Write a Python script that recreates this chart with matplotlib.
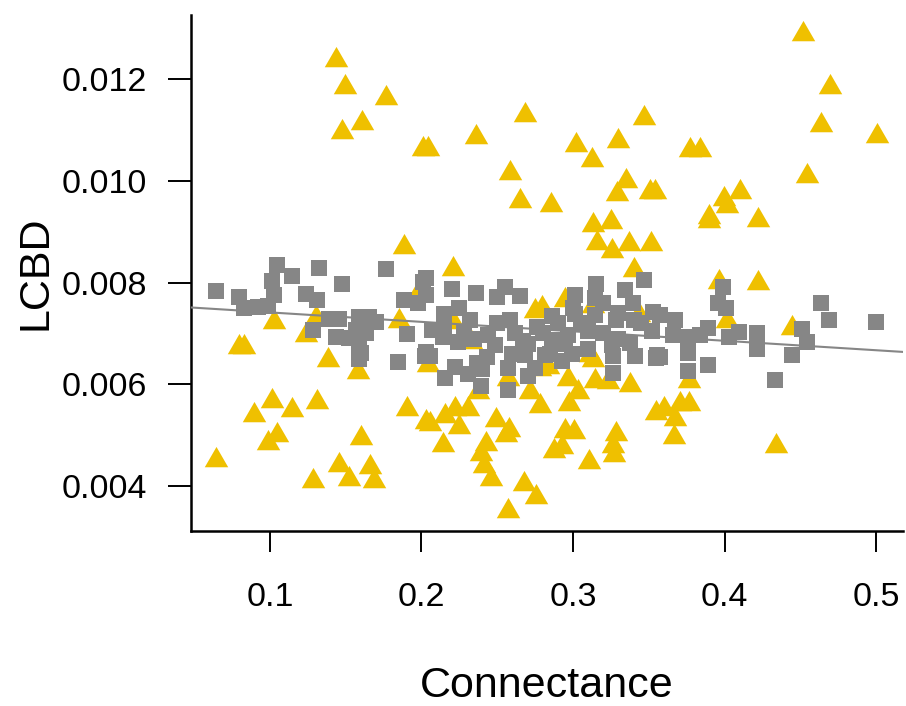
import matplotlib

matplotlib.use("Agg")
import matplotlib.pyplot as plt
import numpy as np

plt.rcParams["font.family"] = ["Liberation Sans", "DejaVu Sans"]

YELLOW = "#EFC000"
GREY = "#868686"

# group 1 (triangles): connectance, LCBD
tri_x = [
    0.1439, 0.1498, 0.1768, 0.1609, 0.1476, 0.2010, 0.2043, 0.2363, 0.2683, 0.2584,
    0.3020, 0.3128, 0.3300, 0.3471, 0.3349, 0.3290, 0.3505, 0.3538, 0.4518, 0.4695,
    0.4640, 0.5004, 0.3775, 0.3841, 0.4547, 0.4099, 0.3995, 0.4018, 0.3896, 0.3896,
    0.4220, 0.2650, 0.2855, 0.3135, 0.3250, 0.3157, 0.3257, 0.3367, 0.3517, 0.3400,
    0.2209, 0.1882, 0.3962, 0.4220, 0.4018, 0.4448,
    0.1028, 0.0797, 0.0830, 0.1238, 0.1304, 0.1849, 0.1988, 0.2749, 0.2793, 0.2948,
    0.3135, 0.3433, 0.2330, 0.3113, 0.2207, 0.1386, 0.1584, 0.2044, 0.2370, 0.2570,
    0.2780, 0.3130, 0.2837,
    0.1013, 0.0898, 0.1143, 0.1311, 0.1907, 0.2032, 0.1046, 0.0984, 0.1598, 0.0647,
    0.1454, 0.1662, 0.1525, 0.1684, 0.1282, 0.2057, 0.2154, 0.2220, 0.2308, 0.2248,
    0.2142, 0.2491, 0.2557, 0.2577, 0.2429, 0.2396, 0.2411, 0.2458, 0.2676, 0.2754,
    0.2572, 0.2782, 0.2716, 0.2974, 0.3036, 0.2970, 0.3146, 0.3378, 0.3234, 0.2948,
    0.3007, 0.2875, 0.2926, 0.3107, 0.3285, 0.3267, 0.3272, 0.3550, 0.3598, 0.3764,
    0.3709, 0.3764, 0.3676, 0.3665, 0.4338,
]
tri_y = [
    0.01238, 0.01184, 0.01163, 0.01114, 0.01097, 0.01063, 0.01063, 0.01086, 0.01130, 0.01015,
    0.01071, 0.01042, 0.01079, 0.01123, 0.01000, 0.00974, 0.00978, 0.00978, 0.01288, 0.01185,
    0.01110, 0.01089, 0.01061, 0.01061, 0.01009, 0.00978, 0.00965, 0.00950, 0.00929, 0.00922,
    0.00924, 0.00960, 0.00953, 0.00914, 0.00920, 0.00878, 0.00862, 0.00875, 0.00876, 0.00825,
    0.00827, 0.00870, 0.00801, 0.00799, 0.00725, 0.00711,
    0.00723, 0.00673, 0.00673, 0.00696, 0.00730, 0.00725, 0.00786, 0.00744, 0.00751, 0.00766,
    0.00754, 0.00736, 0.00683, 0.00658, 0.00722, 0.00648, 0.00624, 0.00638, 0.00585, 0.00610,
    0.00630, 0.00648, 0.00634,
    0.00567, 0.00540, 0.00550, 0.00565, 0.00551, 0.00525, 0.00501, 0.00484, 0.00494, 0.00451,
    0.00442, 0.00438, 0.00413, 0.00409, 0.00409, 0.00522, 0.00538, 0.00552, 0.00552, 0.00516,
    0.00481, 0.00530, 0.00501, 0.00510, 0.00483, 0.00463, 0.00440, 0.00414, 0.00403, 0.00378,
    0.00351, 0.00558, 0.00584, 0.00561, 0.00584, 0.00611, 0.00607, 0.00599, 0.00605, 0.00508,
    0.00506, 0.00468, 0.00476, 0.00448, 0.00502, 0.00479, 0.00460, 0.00543, 0.00552, 0.00606,
    0.00561, 0.00561, 0.00532, 0.00497, 0.00479,
]

# group 2 (squares)
sq_x = [
    0.0647, 0.1046, 0.1013, 0.1143, 0.1024, 0.0797, 0.0830, 0.0923, 0.0984, 0.1324,
    0.1478, 0.1765, 0.1240, 0.1311, 0.1390, 0.1459, 0.1282, 0.1439, 0.1591, 0.1657,
    0.1701, 0.1569, 0.1635, 0.1525, 0.1591, 0.1602, 0.1884, 0.1977, 0.2010, 0.1904,
    0.1847, 0.2021, 0.1591,
    0.2032, 0.2032, 0.2204, 0.2359, 0.2498, 0.2549, 0.2652, 0.3016, 0.3155, 0.3144,
    0.3343, 0.3468, 0.3396, 0.3525, 0.2149, 0.2246, 0.2319, 0.2584, 0.2860, 0.3014,
    0.3146, 0.3283, 0.3400, 0.2761, 0.2142, 0.2242, 0.2440, 0.2485, 0.2672, 0.2860,
    0.2969, 0.3102, 0.3257, 0.3378, 0.3521, 0.3557, 0.2028, 0.2067,
    0.2057, 0.2154, 0.2220, 0.2308, 0.2396, 0.2365, 0.2431, 0.2572, 0.2571, 0.2705,
    0.2749, 0.2683, 0.2815, 0.2926, 0.2995, 0.3267, 0.3266, 0.3409, 0.3548,
    0.3760, 0.3894, 0.3762, 0.4444, 0.4333, 0.3577,
    0.3993, 0.3960, 0.4013, 0.4635, 0.4690, 0.5000, 0.4514, 0.4543, 0.4216, 0.4216,
    0.4027, 0.4093, 0.3894, 0.3840, 0.3762, 0.3762, 0.3671, 0.3663, 0.3577,
    0.2350, 0.2500, 0.2620, 0.2700, 0.2800, 0.2900, 0.2950, 0.3050, 0.3100, 0.3200,
    0.3300, 0.3450, 0.2850, 0.2600, 0.2400, 0.2280, 0.2150, 0.3000, 0.3200, 0.3300,
]
sq_y = [
    0.00784, 0.00835, 0.00804, 0.00813, 0.00775, 0.00771, 0.00750, 0.00752, 0.00754, 0.00828,
    0.00797, 0.00826, 0.00778, 0.00766, 0.00728, 0.00728, 0.00706, 0.00694, 0.00733, 0.00733,
    0.00723, 0.00707, 0.00700, 0.00691, 0.00681, 0.00661, 0.00766, 0.00760, 0.00801, 0.00698,
    0.00643, 0.00656, 0.00650,
    0.00809, 0.00776, 0.00787, 0.00780, 0.00772, 0.00791, 0.00774, 0.00775, 0.00798, 0.00770,
    0.00785, 0.00805, 0.00760, 0.00742, 0.00739, 0.00750, 0.00727, 0.00727, 0.00734, 0.00738,
    0.00736, 0.00727, 0.00726, 0.00713, 0.00694, 0.00684, 0.00697, 0.00677, 0.00686, 0.00687,
    0.00697, 0.00704, 0.00677, 0.00681, 0.00704, 0.00658, 0.00664, 0.00707,
    0.00656, 0.00613, 0.00635, 0.00620, 0.00597, 0.00642, 0.00654, 0.00589, 0.00632, 0.00616,
    0.00632, 0.00658, 0.00658, 0.00646, 0.00660, 0.00623, 0.00656, 0.00656, 0.00652,
    0.00626, 0.00637, 0.00662, 0.00658, 0.00608, 0.00654,
    0.00792, 0.00759, 0.00750, 0.00760, 0.00726, 0.00723, 0.00708, 0.00683, 0.00700, 0.00669,
    0.00694, 0.00703, 0.00711, 0.00697, 0.00694, 0.00671, 0.00726, 0.00697, 0.00736,
    0.00690, 0.00720, 0.00700, 0.00680, 0.00700, 0.00720, 0.00680, 0.00720, 0.00670, 0.00700,
    0.00690, 0.00720, 0.00660, 0.00660, 0.00630, 0.00700, 0.00710, 0.00750, 0.00760, 0.00740,
]

# fitted line for the squares
fit_intercept = 0.00760
fit_slope = -0.00186

# equilateral triangle, centroid at the origin (like R's pch 17)
tri_marker = [(-1.0, -0.5774), (1.0, -0.5774), (0.0, 1.1547)]

fig = plt.figure(figsize=(9.06, 7.06), dpi=100)
ax = fig.add_axes([0.2108, 0.2479, 0.7859, 0.7309])

ax.scatter(tri_x, tri_y, marker=tri_marker, s=19.5 ** 2, c=YELLOW, linewidths=0, zorder=2)
xs = np.array([0.0479, 0.5178])
ax.plot(xs, fit_intercept + fit_slope * xs, color=GREY, lw=1.5, zorder=3)
ax.scatter(sq_x, sq_y, marker="s", s=11.5 ** 2, c=GREY, linewidths=0, zorder=4)

ax.set_xlim(0.0479, 0.5178)
ax.set_ylim(0.003115, 0.013264)
ax.set_xticks([0.1, 0.2, 0.3, 0.4, 0.5])
ax.set_xticklabels(["0.1", "0.2", "0.3", "0.4", "0.5"])
ax.set_yticks([0.004, 0.006, 0.008, 0.010, 0.012])
ax.set_yticklabels(["0.004", "0.006", "0.008", "0.010", "0.012"])

for side in ("top", "right"):
    ax.spines[side].set_visible(False)
for side in ("left", "bottom"):
    ax.spines[side].set_linewidth(1.8)
ax.tick_params(axis="y", length=16.5, width=1.4, pad=15, labelsize=24.5)
ax.tick_params(axis="x", length=15, width=1.4, pad=22, labelsize=24.5)

ax.set_xlabel("Connectance", fontsize=31)
ax.xaxis.set_label_coords(0.5, -0.3217)
ax.xaxis.label.set_va("baseline")
ax.set_ylabel("LCBD", fontsize=31)
ax.yaxis.set_label_coords(-0.2184, 0.5)
ax.yaxis.label.set_va("center")

fig.savefig("out.png", dpi=100)
